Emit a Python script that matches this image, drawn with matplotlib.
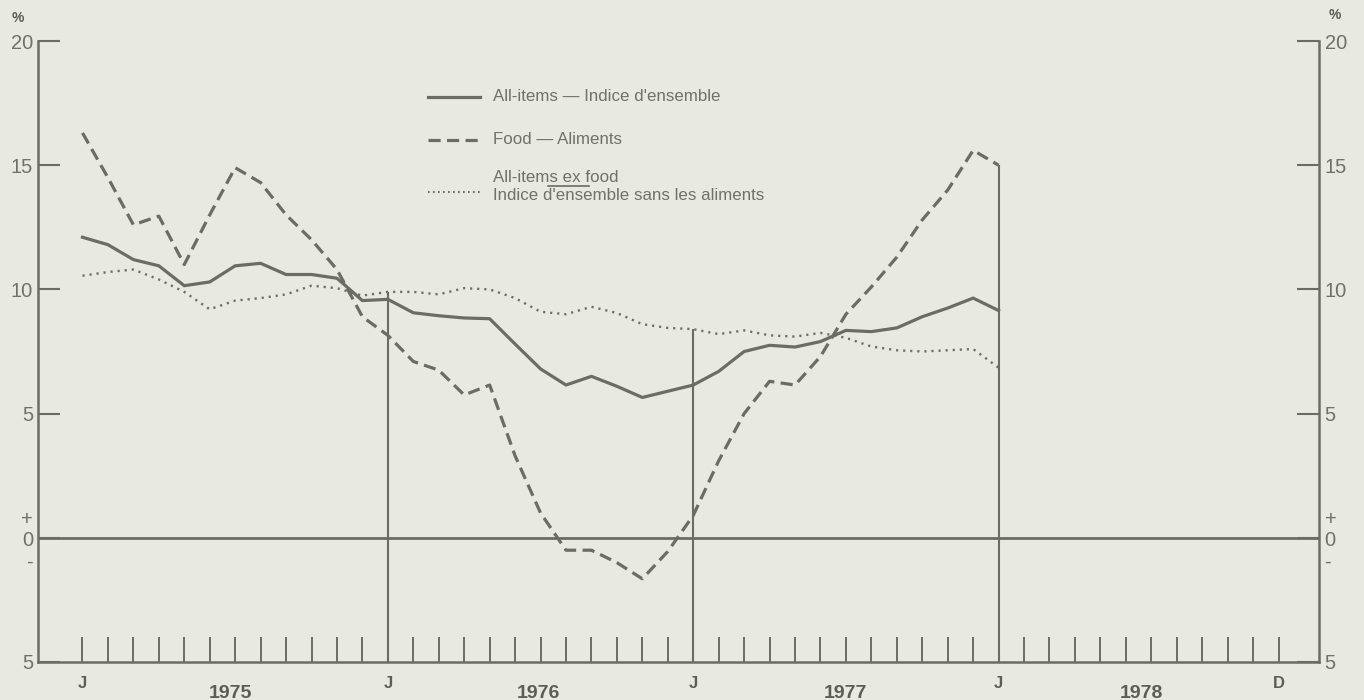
import matplotlib
matplotlib.use("Agg")
import matplotlib.pyplot as plt
from matplotlib.lines import Line2D

# monthly % change, Jan 1975 .. Jan 1978
all_items = [12.1, 11.8, 11.2, 10.95, 10.15, 10.3, 10.95, 11.05, 10.6, 10.6, 10.45, 9.55, 9.6,
             9.06, 8.94, 8.85, 8.82, 7.8, 6.8, 6.15, 6.5, 6.1, 5.65, 5.9, 6.15,
             6.7, 7.5, 7.75, 7.68, 7.9, 8.35, 8.3, 8.45, 8.9, 9.25, 9.65, 9.15]
food = [16.3, 14.5, 12.6, 12.95, 11.0, 13.0, 14.9, 14.3, 13.0, 12.0, 10.8, 8.9, 8.15,
        7.1, 6.75, 5.75, 6.15, 3.3, 1.0, -0.5, -0.5, -1.0, -1.65, -0.55, 0.9,
        3.1, 5.0, 6.3, 6.15, 7.3, 9.0, 10.1, 11.3, 12.8, 14.0, 15.6, 15.0]
ex_food = [10.55, 10.7, 10.8, 10.4, 9.9, 9.2, 9.55, 9.65, 9.8, 10.15, 10.05, 9.75, 9.9,
           9.9, 9.8, 10.05, 10.0, 9.65, 9.1, 9.0, 9.3, 9.05, 8.6, 8.45, 8.4,
           8.2, 8.35, 8.15, 8.1, 8.25, 8.05, 7.7, 7.55, 7.5, 7.55, 7.6, 6.85]

n_months = 48                      # Jan 1975 .. Dec 1978
month_label_pos = [0, 12, 24, 36, 47]
month_label_txt = ['J', 'J', 'J', 'J', 'D']
year_txt = ['1975', '1976', '1977', '1978']
year_pos = [5.8, 17.9, 30.0, 41.6]
year_marks = [12, 24, 36]          # tall lines at each January
yticks = [-5, 0, 5, 10, 15, 20]
ytick_txt = ['5', '+\n0\n-', '5', '10', '15', '20']

bg = '#e8eae2'
ink = '#6b6d62'
txt = '#707266'
dark = '#5c5e53'

plt.rcParams['font.family'] = ['Liberation Sans', 'DejaVu Sans']

fig = plt.figure(figsize=(13.64, 7.0), dpi=100, facecolor=bg)
ax = fig.add_axes([0.0282, 0.0543, 0.9388, 0.8871])
ax.set_facecolor(bg)

x = list(range(len(all_items)))
ax.plot(x, all_items, color=ink, lw=2.3, solid_joinstyle='round')
ax.plot(x, food, color=ink, lw=2.3, linestyle=(0, (3.8, 2.0)))
ax.plot(x, ex_food, color=ink, lw=1.7, linestyle=(0, (0.9, 2.1)))

ax.axhline(0, color=ink, lw=2.0)
for m in year_marks:
    top = max(all_items[m], food[m], ex_food[m])
    ax.vlines(m, -5, top, color=ink, lw=1.5)

ax.set_xlim(-1.73, 48.59)
ax.set_ylim(-5, 20)

for s in ['left', 'right', 'bottom']:
    ax.spines[s].set_color(ink)
    ax.spines[s].set_linewidth(1.8)
ax.spines['top'].set_visible(False)

ax.set_yticks(yticks)
ax.set_yticklabels(ytick_txt, linespacing=1.15)
ax.tick_params(axis='y', direction='in', length=16, width=1.5, color=ink,
               left=True, right=True, labelleft=True, labelright=True,
               labelsize=14.5, labelcolor=txt, pad=4)

ax.set_xticks(range(n_months))
labels = [''] * n_months
for p, t in zip(month_label_pos, month_label_txt):
    labels[p] = t
ax.set_xticklabels(labels, fontweight='bold', fontsize=12, color=dark)
ax.tick_params(axis='x', direction='in', length=18, width=1.4, color=ink, pad=10)

for p, t in zip(year_pos, year_txt):
    ax.text(p, -0.05, t, transform=ax.get_xaxis_transform(), ha='center', va='center',
            fontsize=14, fontweight='bold', color=dark)

ax.text(-0.016, 1.037, '%', transform=ax.transAxes, ha='center', va='center',
        fontsize=10, fontweight='bold', color=dark)
ax.text(1.0125, 1.042, '%', transform=ax.transAxes, ha='center', va='center',
        fontsize=10, fontweight='bold', color=dark)

# legend drawn by hand to match the printed key
key = [
    (0.910, dict(lw=2.3), 'All-items — Indice d\'ensemble', 0.910),
    (0.841, dict(lw=2.3, linestyle=(0, (3.8, 2.0))), 'Food — Aliments', 0.841),
    (0.757, dict(lw=1.5, linestyle=(0, (0.8, 1.6))),
     'All-items ex food\nIndice d\'ensemble sans les aliments', 0.766),
]
for ly, style, label, ty in key:
    ax.add_line(Line2D([0.304, 0.345], [ly, ly], transform=ax.transAxes, color=ink, **style))
    ax.text(0.355, ty, label, transform=ax.transAxes, ha='left', va='center',
            fontsize=12.2, color=txt, linespacing=1.25)
ax.add_line(Line2D([0.398, 0.430], [0.767, 0.767], transform=ax.transAxes,
                   color=ink, lw=1.2))

fig.savefig('out.png', dpi=100, facecolor=bg)
